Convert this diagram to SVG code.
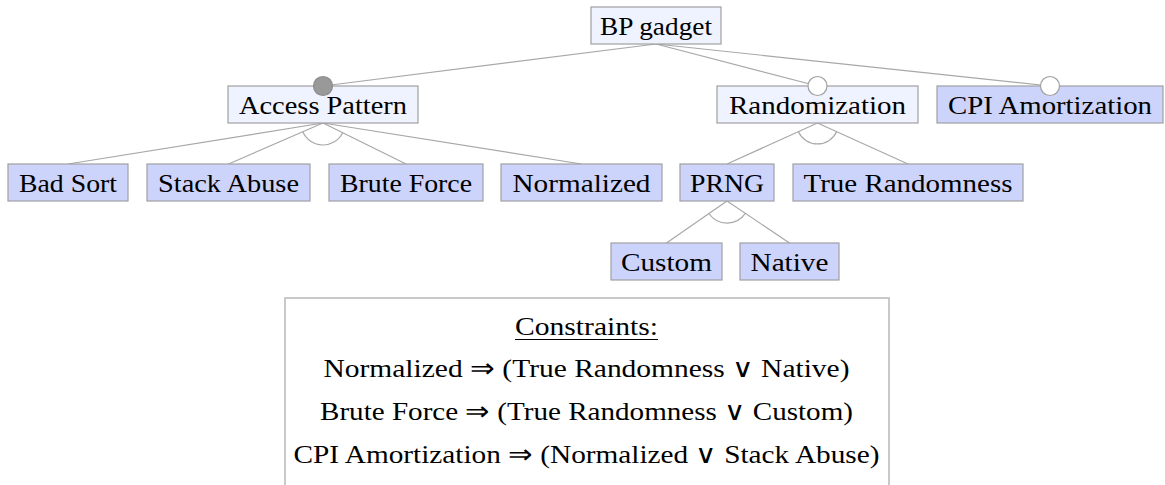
<svg xmlns="http://www.w3.org/2000/svg" width="1165" height="485" viewBox="0 0 1165 485">
  <style>
    .abs { fill: #eff2ff; stroke: #a0a0a0; stroke-width: 1.2; }
    .leaf { fill: #cdd4fc; stroke: #a0a0a0; stroke-width: 1.2; }
    .lbl { font-family: "Liberation Serif", "DejaVu Serif", serif; font-size: 26px; fill: #000; text-anchor: middle; }
    .sym { font-family: "DejaVu Sans", sans-serif; font-weight: 200; font-size: 26px; }
    .edge { stroke: #a8a8a8; stroke-width: 1.2; fill: none; }
    .opt { fill: #ffffff; stroke: #a0a0a0; stroke-width: 1.2; }
    .mand { fill: #999999; stroke: #8c8c8c; stroke-width: 1.2; }
  </style>
  <rect width="1165" height="485" fill="#ffffff"/>

  <!-- connectors: parent bottom to child top, group arcs -->
  <g id="connectors">
    <line class="edge" x1="656" y1="44" x2="323" y2="86"/>
    <line class="edge" x1="656" y1="44" x2="817.5" y2="86"/>
    <line class="edge" x1="656" y1="44" x2="1050" y2="86"/>

    <line class="edge" x1="323" y1="123" x2="68" y2="164"/>
    <line class="edge" x1="323" y1="123" x2="228.5" y2="164"/>
    <line class="edge" x1="323" y1="123" x2="406" y2="164"/>
    <line class="edge" x1="323" y1="123" x2="581.5" y2="164"/>
    <path class="edge" d="M342.7,132.75 A22,22 0 0 1 302.8,131.8"/>

    <line class="edge" x1="817.5" y1="123" x2="727" y2="164"/>
    <line class="edge" x1="817.5" y1="123" x2="908" y2="164"/>
    <path class="edge" d="M836.6,131.7 A21,21 0 0 1 798.4,131.7"/>

    <line class="edge" x1="727" y1="201" x2="666.5" y2="243"/>
    <line class="edge" x1="727" y1="201" x2="789.5" y2="243"/>
    <path class="edge" d="M745.3,213.3 A22,22 0 0 1 708.9,213.5"/>
  </g>

  <g id="root">
    <rect class="abs" x="591" y="7" width="130" height="37"/>
    <text class="lbl" x="656" y="35" textLength="112" lengthAdjust="spacingAndGlyphs">BP gadget</text>
  </g>

  <g id="access-pattern">
    <rect class="abs" x="228" y="86" width="190" height="37"/>
    <text class="lbl" x="323" y="114" textLength="168" lengthAdjust="spacingAndGlyphs">Access Pattern</text>
  </g>
  <g id="randomization">
    <rect class="abs" x="717" y="86" width="201" height="37"/>
    <text class="lbl" x="817.5" y="114" textLength="177" lengthAdjust="spacingAndGlyphs">Randomization</text>
  </g>
  <g id="cpi-amortization">
    <rect class="leaf" x="937" y="86" width="226" height="37"/>
    <text class="lbl" x="1050" y="114" textLength="204" lengthAdjust="spacingAndGlyphs">CPI Amortization</text>
  </g>

  <g id="bad-sort">
    <rect class="leaf" x="8" y="164" width="120" height="37"/>
    <text class="lbl" x="68" y="192" textLength="98" lengthAdjust="spacingAndGlyphs">Bad Sort</text>
  </g>
  <g id="stack-abuse">
    <rect class="leaf" x="147" y="164" width="163" height="37"/>
    <text class="lbl" x="228.5" y="192" textLength="141" lengthAdjust="spacingAndGlyphs">Stack Abuse</text>
  </g>
  <g id="brute-force">
    <rect class="leaf" x="329" y="164" width="154" height="37"/>
    <text class="lbl" x="406" y="192" textLength="132" lengthAdjust="spacingAndGlyphs">Brute Force</text>
  </g>
  <g id="normalized">
    <rect class="leaf" x="501" y="164" width="161" height="37"/>
    <text class="lbl" x="581.5" y="192" textLength="138" lengthAdjust="spacingAndGlyphs">Normalized</text>
  </g>
  <g id="prng">
    <rect class="leaf" x="680" y="164" width="94" height="37"/>
    <text class="lbl" x="727" y="192" textLength="74" lengthAdjust="spacingAndGlyphs">PRNG</text>
  </g>
  <g id="true-randomness">
    <rect class="leaf" x="793" y="164" width="230" height="37"/>
    <text class="lbl" x="908" y="192" textLength="209" lengthAdjust="spacingAndGlyphs">True Randomness</text>
  </g>
  <g id="custom">
    <rect class="leaf" x="611" y="243" width="111" height="37"/>
    <text class="lbl" x="666.5" y="271" textLength="91" lengthAdjust="spacingAndGlyphs">Custom</text>
  </g>
  <g id="native">
    <rect class="leaf" x="740" y="243" width="99" height="37"/>
    <text class="lbl" x="789.5" y="271" textLength="78" lengthAdjust="spacingAndGlyphs">Native</text>
  </g>

  <!-- mandatory / optional markers drawn over the edge ends -->
  <g id="markers">
    <circle class="mand" cx="323" cy="86" r="9.5"/>
    <circle class="opt" cx="817.5" cy="86" r="9.5"/>
    <circle class="opt" cx="1050" cy="86" r="9.5"/>
  </g>

  <g id="constraints">
    <path d="M285,500 V298 H889 V500" fill="none" stroke="#b8b8b8" stroke-width="1.5"/>
    <text class="lbl" x="586.5" y="335" textLength="143" lengthAdjust="spacingAndGlyphs">Constraints:</text>
    <line x1="515" y1="339.5" x2="658" y2="339.5" stroke="#000" stroke-width="1"/>
    <text class="lbl" x="586.5" y="377" textLength="526" lengthAdjust="spacingAndGlyphs">Normalized <tspan class="sym">⇒</tspan> (True Randomness <tspan class="sym">∨</tspan> Native)</text>
    <text class="lbl" x="586.5" y="420" textLength="533" lengthAdjust="spacingAndGlyphs">Brute Force <tspan class="sym">⇒</tspan> (True Randomness <tspan class="sym">∨</tspan> Custom)</text>
    <text class="lbl" x="586.5" y="463" textLength="586" lengthAdjust="spacingAndGlyphs">CPI Amortization <tspan class="sym">⇒</tspan> (Normalized <tspan class="sym">∨</tspan> Stack Abuse)</text>
  </g>
</svg>
